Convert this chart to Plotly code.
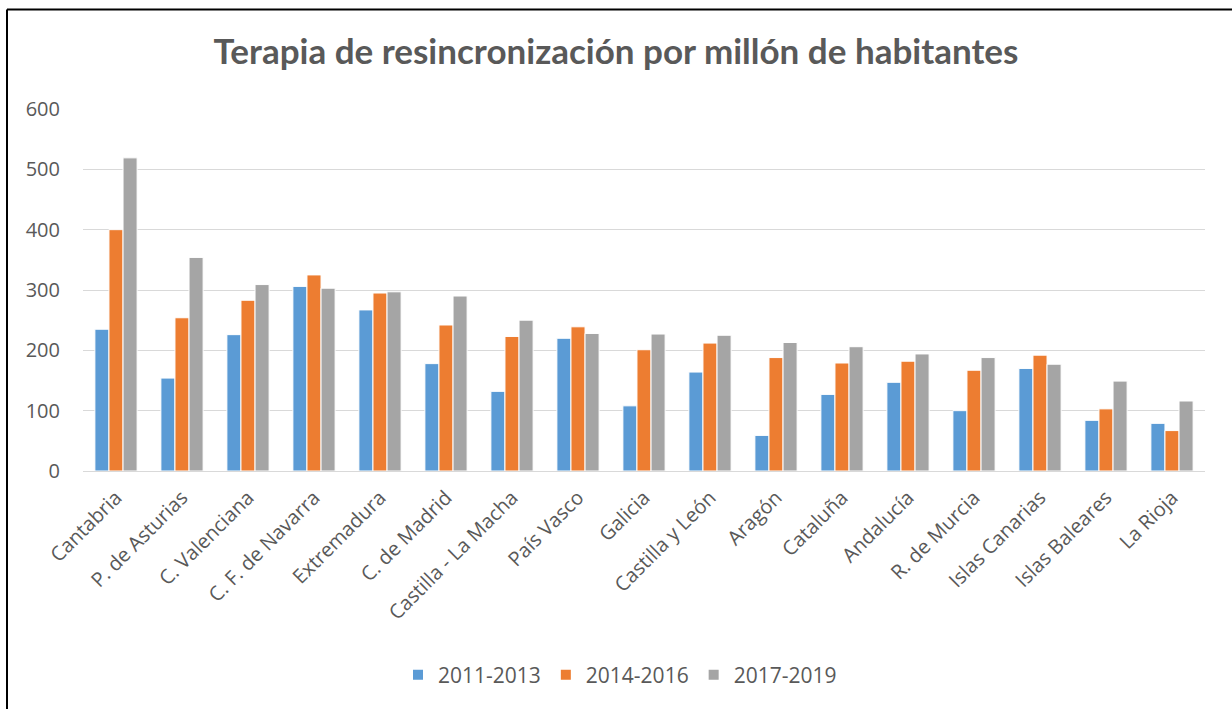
import plotly.graph_objects as go

regiones = ["Cantabria", "P. de Asturias", "C. Valenciana", "C. F. de Navarra", "Extremadura",
            "C. de Madrid", "Castilla - La Macha", "País Vasco", "Galicia", "Castilla y León",
            "Aragón", "Cataluña", "Andalucía", "R. de Murcia", "Islas Canarias",
            "Islas Baleares", "La Rioja"]
v_2011_2013 = [235, 154, 226, 306, 267, 178, 132, 220, 108, 164, 59, 127, 147, 100, 170, 84, 79]
v_2014_2016 = [400, 254, 283, 325, 295, 242, 223, 239, 201, 212, 188, 179, 182, 167, 192, 103, 67]
v_2017_2019 = [519, 354, 309, 303, 297, 290, 250, 228, 227, 225, 213, 206, 194, 188, 177, 149, 116]
series_names = ["2011-2013", "2014-2016", "2017-2019"]
colors = ["#5B9BD5", "#ED7D31", "#A5A5A5"]
y_ticks = [0, 100, 200, 300, 400, 500, 600]

W, H = 1232, 709
L, R, T, B = 83, 1205, 109, 471

fig = go.Figure()
for name, vals, c in zip(series_names, [v_2011_2013, v_2014_2016, v_2017_2019], colors):
    fig.add_trace(go.Bar(x=regiones, y=vals, name=name, marker_color=c,
                         marker_line_color="white", marker_line_width=1))

def px2x(px):
    return (px - L) / (R - L)

def py2y(py):
    return (B - py) / (B - T)

fig.update_layout(
    width=W, height=H,
    margin=dict(l=L, r=W - R, t=T, b=H - B, autoexpand=False),
    paper_bgcolor="white", plot_bgcolor="white",
    font=dict(family="Open Sans, Lato, sans-serif", color="#595959"),
    title=dict(text="<b>Terapia de resincronización por millón de habitantes</b>",
               x=0.5, xanchor="center", y=1 - 52 / H, yanchor="middle",
               font=dict(size=35, color="#595959", family="Lato, Open Sans, sans-serif")),
    barmode="group", bargap=0.36, bargroupgap=0.0,
    legend=dict(orientation="h", x=px2x(620), xanchor="center", y=py2y(675), yanchor="middle",
                font=dict(size=21, color="#595959"), itemsizing="constant",
                traceorder="normal"),
    xaxis=dict(tickangle=-45, tickfont=dict(size=20, color="#595959"),
               showline=True, linecolor="#D9D9D9", linewidth=1, ticks="", showgrid=False,
               ticklabelstandoff=6),
    yaxis=dict(range=[0, 600], tickvals=y_ticks, tickfont=dict(size=20, color="#595959"),
               showgrid=True, gridcolor="#D9D9D9", gridwidth=1, zeroline=False,
               showline=False, ticks="", ticklabelstandoff=22),
    shapes=[
        dict(type="line", xref="paper", yref="paper", x0=px2x(7), x1=px2x(1240),
             y0=py2y(9.5), y1=py2y(9.5), line=dict(color="black", width=2)),
        dict(type="line", xref="paper", yref="paper", x0=px2x(7), x1=px2x(7),
             y0=py2y(9.5), y1=py2y(720), line=dict(color="black", width=2)),
    ],
)

fig.write_html("out.html", config={"displayModeBar": False},
               post_script="document.body.style.margin='0px';")
